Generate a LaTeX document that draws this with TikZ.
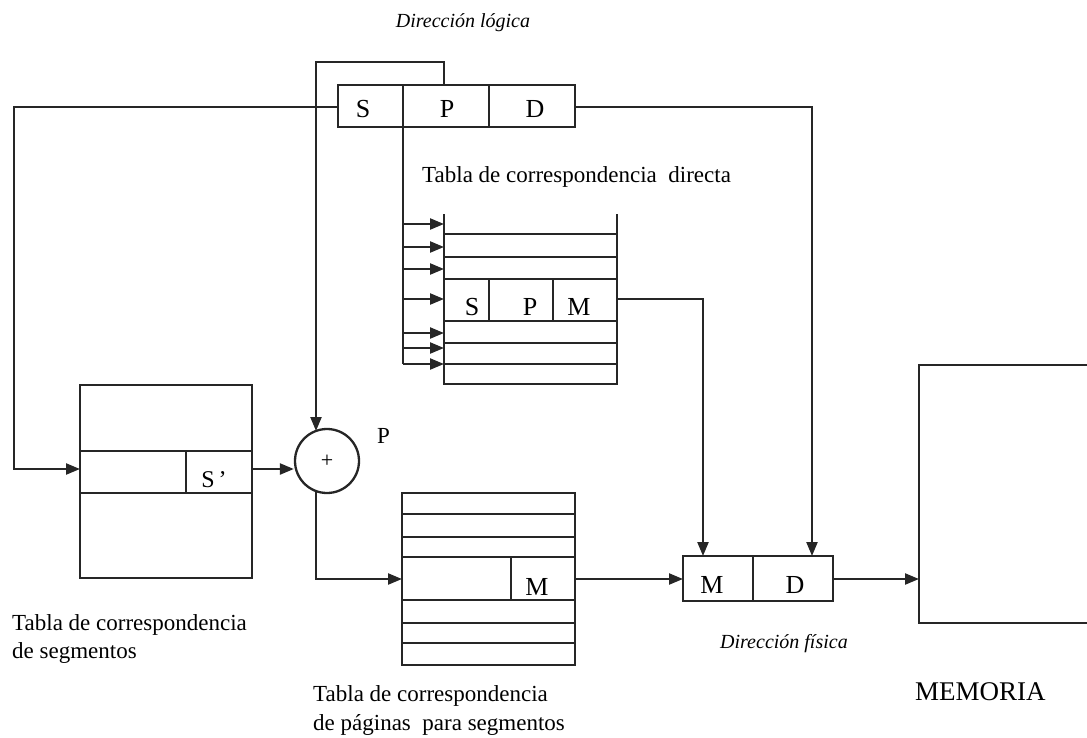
\documentclass[tikz,border=0pt]{standalone}
\usepackage{fontspec}
\setmainfont{Liberation Serif}
\usetikzlibrary{arrows.meta,calc}

\begin{document}
\begin{tikzpicture}[x=1pt,y=-1pt,
  line/.style={draw=black!85, line width=2.3pt},
  arr/.style={line, -{Triangle[length=14pt,width=11pt]}},
  lbl/.style={font=\fontsize{23}{28}\selectfont, inner sep=0pt, anchor=base west},
  cell/.style={font=\fontsize{26}{30}\selectfont, inner sep=0pt, anchor=base},
  note/.style={font=\itshape\fontsize{20}{24}\selectfont, inner sep=0pt},
]
\useasboundingbox (0,0) rectangle (1087,737);
\clip (0,0) rectangle (1087,737);

% ---- logical address S | P | D
\draw[line] (338,85) rectangle (575,127);
\draw[line] (403,85) -- (403,127) (489,85) -- (489,127);
\node[cell] (ls) at (363,117) {S};
\node[cell] (lp) at (447,117) {P};
\node[cell] (ld) at (535,117) {D};
\coordinate (lsW) at (338,107);
\coordinate (lpN) at (444,85);
\coordinate (lpS) at (403,127);
\coordinate (ldE) at (575,107);
\node[note, anchor=base] (dl) at (463,27) {Dirección lógica};

% ---- associative (direct) table
\node[lbl] (dtt) at (422,182) {Tabla de correspondencia\ \ directa};
\draw[line] (444,214) -- (444,384) -- (617,384) -- (617,214);
\foreach \y in {234,257,279,321,343,364} \draw[line] (444,\y) -- (617,\y);
\draw[line] (489,279) -- (489,321) (553,279) -- (553,321);
\node[cell] (ds) at (472,315) {S};
\node[cell] (dp) at (530,315) {P};
\node[cell] (dm) at (579,315) {M};
\coordinate (dtW) at (444,300);
\coordinate (dtM) at (617,299);
\coordinate (feedEnd) at (403,364);
\draw[line] (lpS) -- (feedEnd);
\foreach \y in {224,247,269,299,333,348,364}
  \draw[arr] (lpS |- 0,\y) -- (dtW |- 0,\y);

% ---- segment table
\draw[line] (80,385) rectangle (252,578);
\draw[line] (80,451) -- (252,451) (80,493) -- (252,493) (186,451) -- (186,493);
\node[cell, font=\fontsize{24}{28}\selectfont] (sp) at (214,487) {S\,’};
\coordinate (stW) at (80,469);
\coordinate (stE) at (252,469);
\node[lbl] (st1) at (12,630) {Tabla de correspondencia};
\node[lbl] (st2) at (12,658) {de segmentos};
\draw[arr] (lsW) -- ++(-324,0) |- (stW);

% ---- adder
\node[circle, draw=black!85, line width=2.3pt, minimum size=64pt, inner sep=0pt,
      font=\fontsize{22}{26}\selectfont] (add) at (327,461) {+};
\node[lbl] (addp) at (377,443) {P};
\coordinate (addN) at ($(add.center)+(-11,-30)$);
\coordinate (addS) at ($(add.center)+(-11,30)$);
\draw[arr] (lpN) -- ++(0,-23) -| (addN);
\draw[arr] (stE) -- (add.west |- stE);

% ---- page table
\draw[line] (402,493) rectangle (575,665);
\foreach \y in {514,537,557,600,623,643} \draw[line] (402,\y) -- (575,\y);
\draw[line] (511,557) -- (511,600);
\node[cell] (pm) at (537,595) {M};
\coordinate (ptW) at (402,579);
\coordinate (ptE) at (575,579);
\node[lbl] (pt1) at (313,701) {Tabla de correspondencia};
\node[lbl] (pt2) at (313,730) {de páginas\ \ para segmentos};
\draw[arr] (addS) |- (ptW);

% ---- physical address M | D
\draw[line] (683,556) rectangle (833,601);
\draw[line] (753,556) -- (753,601);
\node[cell] (fm) at (712,593) {M};
\node[cell] (fd) at (795,593) {D};
\coordinate (paW) at (683,579);
\coordinate (paE) at (833,579);
\coordinate (paM) at (703,556);
\coordinate (paD) at (812,556);
\node[note, anchor=base west] (df) at (720,648) {Dirección física};
\draw[arr] (ptE) -- (paW);
\draw[arr] (dtM) -| (paM);
\draw[arr] (ldE) -| (paD);

% ---- memory
\draw[line] (1100,365) -- (919,365) -- (919,623) -- (1100,623);
\coordinate (memW) at (919,579);
\node[lbl, font=\fontsize{27}{32}\selectfont] (mem) at (915,700) {MEMORIA};
\draw[arr] (paE) -- (memW);
\end{tikzpicture}
\end{document}
